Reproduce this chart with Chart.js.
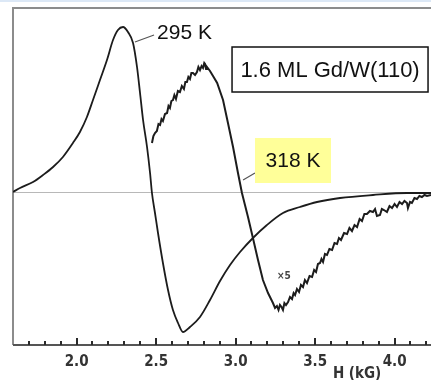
<!DOCTYPE html>
<html>
<head>
<meta charset="utf-8">
<script src="https://cdn.jsdelivr.net/npm/chart.js@4"></script>
<style>
  html, body { margin: 0; padding: 0; background: #fff; }
  #wrap { width: 431px; height: 380px; }
</style>
</head>
<body>
<div id="wrap"><canvas id="esrChart" width="431" height="380"></canvas></div>
<script>
// field H (kG) and derivative signal (arb. units)
const field295 = [1.600, 1.644, 1.726, 1.789, 1.852, 1.914, 1.977, 2.021, 2.065, 2.103, 2.147, 2.191, 2.229, 2.260, 2.292,
  2.323, 2.355, 2.380, 2.399, 2.418, 2.443, 2.462, 2.474, 2.493, 2.512, 2.543, 2.575, 2.606, 2.638, 2.669, 2.713, 2.776,
  2.839, 2.902, 2.965, 3.028, 3.109, 3.197, 3.298, 3.405, 3.512, 3.657, 3.864, 4.078, 4.229];
const signal295 = [0.1, 0.5, 1.1, 1.8, 2.6, 3.6, 5.0, 6.1, 7.6, 9.3, 11.3, 13.3, 15.3, 16.3, 16.6,
  16.1, 15.0, 12.6, 10.0, 7.3, 4.6, 2.0, 0, -2.0, -4.0, -7.0, -9.7, -11.7, -13.0, -13.9, -13.4, -12.4,
  -10.7, -8.8, -7.2, -5.9, -4.5, -3.2, -2.0, -1.4, -0.9, -0.5, -0.2, 0, 0];

// 318 K trace (shown x5), noisy
const field318 = [
  2.474, 2.483, 2.493, 2.505, 2.515, 2.525, 2.534, 2.543, 2.556, 2.569,
  2.578, 2.587, 2.596, 2.606, 2.615, 2.625, 2.637, 2.650, 2.662, 2.675,
  2.684, 2.694, 2.703, 2.713, 2.722, 2.732, 2.745, 2.757, 2.766, 2.776,
  2.786, 2.795, 2.803, 2.808, 2.814, 2.820, 2.839, 2.858, 2.884, 2.921,
  2.952, 2.984, 3.015, 3.040, 3.078, 3.109, 3.141, 3.172, 3.204, 3.235,
  3.248, 3.260, 3.270, 3.279, 3.289, 3.298, 3.307, 3.317, 3.330, 3.342,
  3.355, 3.365, 3.374, 3.386, 3.399, 3.411, 3.424, 3.436, 3.449, 3.465,
  3.481, 3.494, 3.506, 3.518, 3.531, 3.540, 3.550, 3.562, 3.575, 3.590,
  3.607, 3.622, 3.638, 3.650, 3.663, 3.682, 3.701, 3.716, 3.732, 3.748,
  3.764, 3.780, 3.795, 3.810, 3.826, 3.845, 3.864, 3.877, 3.889, 3.908,
  3.920, 3.933, 3.952, 3.968, 3.984, 4.000, 4.015, 4.031, 4.047, 4.062,
  4.078, 4.084, 4.097, 4.109, 4.125, 4.141, 4.156, 4.172, 4.188, 4.204,
  4.229];
const signal318 = [
  5.0, 5.7, 6.0, 6.2, 6.9, 6.8, 7.4, 7.2, 7.9, 8.0,
  8.7, 8.5, 9.2, 9.3, 9.8, 9.4, 10.2, 10.1, 10.7, 10.4,
  11.1, 11.1, 11.6, 11.4, 12.0, 12.0, 11.8, 12.1, 12.6, 12.3,
  12.7, 12.5, 13.0, 12.9, 12.4, 12.6, 12.2, 11.7, 11.0, 9.3,
  7.0, 4.6, 2.0, 0, -2.4, -4.5, -6.7, -8.7, -10.0, -11.0,
  -11.5, -11.3, -11.7, -11.2, -11.4, -11.7, -11.0, -11.2, -10.9, -10.4,
  -10.6, -10.0, -10.2, -9.6, -9.9, -9.2, -9.4, -8.7, -9.0, -8.3,
  -8.4, -7.7, -7.9, -7.1, -7.0, -6.6, -6.9, -6.1, -6.2, -5.6,
  -5.7, -5.0, -5.1, -4.5, -4.7, -4.0, -4.1, -3.5, -3.8, -3.2,
  -3.4, -2.6, -2.8, -2.1, -2.1, -1.8, -1.9, -1.6, -2.3, -2.2,
  -1.6, -1.7, -1.9, -1.3, -1.5, -1.1, -1.4, -0.9, -1.1, -0.8,
  -1.0, -1.5, -0.9, -1.0, -0.5, -0.6, -0.3, -0.4, -0.2, -0.3,
  -0.2];

const majorTicks = [2.0, 2.5, 3.0, 3.5, 4.0];
const minorTicks = [1.7, 1.8, 1.9, 2.1, 2.2, 2.3, 2.4, 2.6, 2.7, 2.8, 2.9, 3.1, 3.2, 3.3, 3.4,
  3.6, 3.7, 3.8, 3.9, 4.1, 4.2];

const axisTitle = 'H (kG)';
const sampleLabel = '1.6 ML Gd/W(110)';
const tempLabels = ['295 K', '318 K'];
const scaleNote = '×5';

function toPoints(xs, ys) {
  return xs.map((x, i) => ({ x: x, y: ys[i] }));
}

const decor = {
  id: 'decor',
  beforeDraw(chart) {
    const ctx = chart.ctx;
    ctx.save();
    ctx.fillStyle = '#ffffff';
    ctx.fillRect(0, 0, chart.width, chart.height);
    ctx.fillStyle = '#dce8f6';
    ctx.fillRect(0, 0, chart.width, 2);
    ctx.restore();
  },
  beforeDatasetsDraw(chart) {
    const { ctx, chartArea: a, scales: { y } } = chart;
    const y0 = y.getPixelForValue(0);
    ctx.save();
    // zero line
    ctx.strokeStyle = '#b8b8b8';
    ctx.lineWidth = 1;
    ctx.beginPath();
    ctx.moveTo(a.left, y0 - 0.5);
    ctx.lineTo(a.right, y0 - 0.5);
    ctx.stroke();
    // frame (left + top)
    ctx.strokeStyle = '#8c8c8c';
    ctx.lineWidth = 2;
    ctx.beginPath();
    ctx.moveTo(a.left, a.bottom);
    ctx.lineTo(a.left, a.top);
    ctx.lineTo(a.right, a.top);
    ctx.stroke();
    ctx.restore();
  },
  afterDatasetsDraw(chart) {
    const { ctx, chartArea: a, scales: { x, y } } = chart;
    ctx.save();

    // bottom axis with ticks pointing up
    ctx.strokeStyle = '#555';
    ctx.lineWidth = 2;
    ctx.beginPath();
    ctx.moveTo(a.left, a.bottom);
    ctx.lineTo(a.right, a.bottom);
    ctx.stroke();
    ctx.fillStyle = '#2a2a2a';
    minorTicks.forEach(v => {
      const px = Math.round(x.getPixelForValue(v));
      ctx.fillRect(px - 1, a.bottom - 4, 2, 4);
    });
    majorTicks.forEach(v => {
      const px = Math.round(x.getPixelForValue(v));
      ctx.fillRect(px - 1, a.bottom - 7, 2, 7);
    });

    ctx.fillStyle = '#111';
    ctx.textBaseline = 'middle';

    // leader lines
    ctx.strokeStyle = '#555';
    ctx.lineWidth = 1.2;
    ctx.beginPath();
    ctx.moveTo(x.getPixelForValue(2.367), y.getPixelForValue(15.1));
    ctx.lineTo(x.getPixelForValue(2.487), y.getPixelForValue(15.8));
    ctx.moveTo(x.getPixelForValue(3.047), y.getPixelForValue(1.3));
    ctx.lineTo(x.getPixelForValue(3.122), y.getPixelForValue(2.0));
    ctx.stroke();

    // 295 K
    ctx.font = '21px "Liberation Sans", Arial, sans-serif';
    ctx.textAlign = 'left';
    ctx.fillText(tempLabels[0], x.getPixelForValue(2.506), y.getPixelForValue(16.0));

    // sample box
    let cx = x.getPixelForValue(3.594), cy = y.getPixelForValue(12.35);
    ctx.font = '22px "Liberation Sans", Arial, sans-serif';
    ctx.fillStyle = '#fff';
    ctx.fillRect(cx - 98, cy - 22.5, 196, 45);
    ctx.strokeStyle = '#111';
    ctx.lineWidth = 1.5;
    ctx.strokeRect(cx - 98, cy - 22.5, 196, 45);
    ctx.fillStyle = '#111';
    ctx.textAlign = 'center';
    ctx.fillText(sampleLabel, cx, cy + 1);

    // 318 K yellow box
    cx = x.getPixelForValue(3.361); cy = y.getPixelForValue(3.25);
    ctx.fillStyle = '#ffff99';
    ctx.fillRect(cx - 38, cy - 22.5, 76, 45);
    ctx.fillStyle = '#111';
    ctx.font = '21px "Liberation Sans", Arial, sans-serif';
    ctx.fillText(tempLabels[1], cx, cy + 1);

    // x5 note
    ctx.font = 'bold 10px "DejaVu Sans Condensed", sans-serif';
    ctx.fillStyle = '#444';
    ctx.fillText(scaleNote, x.getPixelForValue(3.304), y.getPixelForValue(-8.3));

    // axis title
    ctx.font = 'bold 15px "DejaVu Sans Condensed", sans-serif';
    ctx.fillStyle = '#333';
    ctx.fillText(axisTitle, x.getPixelForValue(3.764), a.bottom + 29);
    ctx.restore();
  }
};

new Chart(document.getElementById('esrChart'), {
  type: 'line',
  data: {
    datasets: [{
      label: tempLabels[0],
      data: toPoints(field295, signal295),
      borderColor: '#1c1c1c',
      borderWidth: 1.8,
      pointRadius: 0,
      cubicInterpolationMode: 'monotone'
    }, {
      label: tempLabels[1],
      data: toPoints(field318, signal318),
      borderColor: '#1c1c1c',
      borderWidth: 2,
      pointRadius: 0,
      tension: 0
    }]
  },
  options: {
    responsive: false,
    animation: false,
    devicePixelRatio: 1,
    layout: { padding: { left: 13, top: 8, right: 0, bottom: 0 } },
    plugins: {
      legend: { display: false },
      tooltip: { enabled: false }
    },
    scales: {
      x: {
        type: 'linear',
        min: 1.6,
        max: 4.229,
        afterFit(scale) { scale.height = 35; },
        afterBuildTicks(scale) { scale.ticks = majorTicks.map(v => ({ value: v })); },
        grid: { display: false, drawTicks: false },
        border: { display: false },
        ticks: {
          padding: 8,
          color: '#333',
          font: { family: '"DejaVu Sans Condensed", sans-serif', size: 15, weight: 'bold' },
          callback: v => v.toFixed(1)
        }
      },
      y: {
        display: false,
        min: -15.2,
        max: 18.5
      }
    }
  },
  plugins: [decor]
});
</script>
</body>
</html>
